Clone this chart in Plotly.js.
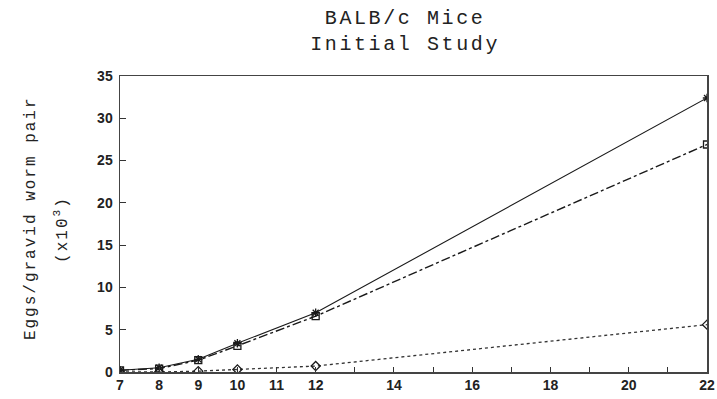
<!DOCTYPE html>
<html>
<head>
<meta charset="utf-8">
<script src="https://cdn.plot.ly/plotly-3.0.1.min.js"></script>
<style>
html,body{margin:0;padding:0;background:#fff;}
#chart{width:717px;height:399px;}
.gtitle{letter-spacing:2.6px;}
.annotation-text{letter-spacing:2px;}
</style>
</head>
<body>
<div id="chart"></div>
<script>
// Weeks post infection
var weeks = [7, 8, 9, 10, 12, 22];
var seriesStar = [0.2, 0.5, 1.5, 3.4, 7.0, 32.4];
var seriesSquare = [0.2, 0.4, 1.4, 3.1, 6.6, 26.9];
var seriesDiamond = [0.0, 0.0, 0.1, 0.3, 0.7, 5.6];
var xTickVals = [7, 8, 9, 10, 11, 12, 13, 14, 15, 16, 17, 18, 19, 20, 21, 22];
var xTickText = ["7", "8", "9", "10", "11", "12", "", "14", "", "16", "", "18", "", "20", "", "22"];
var yTickVals = [0, 5, 10, 15, 20, 25, 30, 35];
var titleText = 'BALB/c Mice<br>Initial Study';
var yTitle1 = 'Eggs/gravid worm pair';
var yTitle2 = '(x10<sup>3</sup>)';

var mk = function (sym) {
  return {symbol: sym, size: 7, color: '#1a1a1a', line: {width: 1.3, color: '#1a1a1a'}};
};
var traces = [
  {x: weeks, y: seriesDiamond, mode: 'lines+markers', line: {color: '#333', width: 1.3, dash: 'dot'}, marker: mk('diamond-open')},
  {x: weeks, y: seriesSquare, mode: 'lines+markers', line: {color: '#1a1a1a', width: 1.4, dash: 'dashdot'}, marker: mk('square-open')},
  {x: weeks, y: seriesStar, mode: 'lines+markers', line: {color: '#1a1a1a', width: 1.1}, marker: mk('asterisk-open')}
];

var monoFont = {family: 'Liberation Mono, monospace', size: 16, color: '#222'};
var tickFont = {family: 'Liberation Sans, Arial, sans-serif', size: 14, color: '#222', weight: 'bold'};

var layout = {
  width: 717, height: 399,
  margin: {l: 120, r: 10, t: 76, b: 27},
  paper_bgcolor: '#fff', plot_bgcolor: '#fff',
  showlegend: false,
  title: {text: titleText, xref: 'container', x: 0.565, xanchor: 'center', yref: 'container', y: 0.94, yanchor: 'top',
          font: {family: 'Liberation Mono, monospace', size: 20, color: '#222'}},
  xaxis: {range: [7, 22], tickmode: 'array', tickvals: xTickVals, ticktext: xTickText,
          ticks: 'inside', ticklen: 5, tickcolor: '#333', showgrid: false, zeroline: false,
          showline: true, linecolor: '#444', linewidth: 1.5, mirror: true, ticklabelstandoff: 0,
          tickfont: tickFont},
  yaxis: {range: [0, 35], tickmode: 'array', tickvals: yTickVals,
          ticks: 'inside', ticklen: 6, tickcolor: '#333', showgrid: false, zeroline: false,
          showline: true, linecolor: '#444', linewidth: 1.5, mirror: true, ticklabelstandoff: 3,
          tickfont: tickFont},
  annotations: [
    {text: yTitle1, xref: 'paper', yref: 'paper', x: -0.1516, y: 0.52, xanchor: 'center', yanchor: 'middle',
     textangle: -90, showarrow: false, font: monoFont},
    {text: yTitle2, xref: 'paper', yref: 'paper', x: -0.0988, y: 0.48, xanchor: 'center', yanchor: 'middle',
     textangle: -90, showarrow: false, font: monoFont}
  ]
};

Plotly.newPlot('chart', traces, layout, {displayModeBar: false, staticPlot: true});
</script>
</body>
</html>
